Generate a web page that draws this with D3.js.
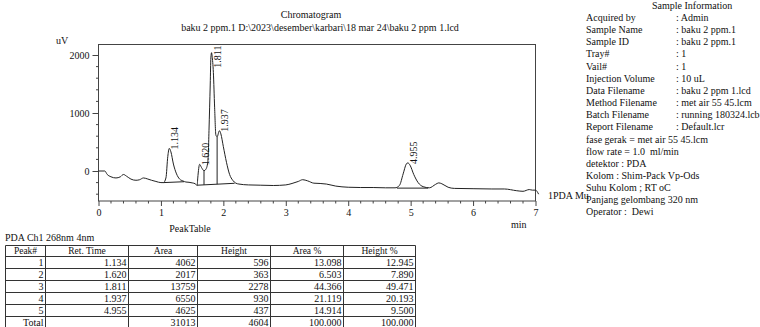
<!DOCTYPE html>
<html>
<head>
<meta charset="utf-8">
<script src="https://cdn.jsdelivr.net/npm/d3@7"></script>
<style>
body { margin: 0; background: white; }
svg text { font-family: "Liberation Serif", "Times New Roman", serif; fill: #111; white-space: pre; }
</style>
</head>
<body>
<div id="chart"></div>
<script>
var W = 760
var H = 327

// Chromatogram trace (min, uV)
var sigTime = [0.00,0.10,0.14,0.20,0.28,0.35,0.40,0.45,0.52,0.60,0.66,0.72,0.78,0.85,0.92,1.00,1.04,
    1.08,1.11,1.134,1.16,1.20,1.25,1.30,1.35,1.40,1.45,1.50,1.55,1.58,1.59,1.62,1.65,1.69,1.72,1.75,
    1.76,1.77,1.79,1.80,1.811,1.82,1.84,1.86,1.88,1.90,1.937,1.96,2.00,2.05,2.10,2.15,2.20,2.25,2.40,
    2.60,2.80,3.00,3.10,3.20,3.27,3.35,3.45,3.55,3.65,3.80,4.00,4.20,4.40,4.60,4.75,4.82,4.88,4.93,
    4.955,4.99,5.05,5.12,5.20,5.30,5.40,5.45,5.50,5.60,5.70,6.00,6.30,6.50,6.70,6.80,6.90,6.95,7.00,7.05]
var sigUv = [0,0,-60,-100,-120,-100,-60,-90,-140,-160,-150,-120,-135,-160,-180,-200,-200,
    -120,250,390,330,120,-50,-140,-170,-190,-195,-205,-220,-250,-120,115,60,5,30,150,
    320,700,1500,1950,2040,1980,1700,1100,620,590,695,640,420,150,-60,-160,-210,-225,-240,
    -245,-250,-240,-215,-180,-150,-170,-210,-215,-225,-260,-280,-285,-285,-290,-290,-250,-50,120,
    140,100,-60,-200,-270,-290,-230,-205,-220,-280,-300,-305,-310,-310,-340,-350,-320,-330,-330,-400]

// integration baselines [t1, uV1, t2, uV2] and drop lines (min)
var baseLines = [[1.04, -200, 1.37, -185], [1.58, -245, 2.18, -212], [4.78, -295, 5.28, -295]]
var dropTimes = [1.69, 1.90]

// peak table
var peakNo = ["1", "2", "3", "4", "5"]
var retTime = ["1.134", "1.620", "1.811", "1.937", "4.955"]
var area = ["4062", "2017", "13759", "6550", "4625"]
var heightV = ["596", "363", "2278", "930", "437"]
var areaPct = ["13.098", "6.503", "44.366", "21.119", "14.914"]
var heightPct = ["12.945", "7.890", "49.471", "20.193", "9.500"]
var totalRow = ["Total", "", "31013", "4604", "100.000", "100.000"]
var headers = ["Peak#", "Ret. Time", "Area", "Height", "Area %", "Height %"]

var xTicks = [0, 1, 2, 3, 4, 5, 6, 7]
var yTicks = [0, 1000, 2000]

var infoLabels = ["Acquired by", "Sample Name", "Sample ID", "Tray#", "Vail#", "Injection Volume",
    "Data Filename", "Method Filename", "Batch Filename", "Report Filename"]
var infoValues = [": Admin", ": baku 2 ppm.1", ": baku 2 ppm.1", ": 1", ": 1", ": 10 uL",
    ": baku 2 ppm 1.lcd", ": met air 55 45.lcm", ": running 180324.lcb", ": Default.lcr"]
var infoNotes = ["fase gerak = met air 55 45.lcm", "flow rate = 1.0  ml/min", "detektor : PDA",
    "Kolom : Shim-Pack Vp-Ods", "Suhu Kolom ; RT oC", "Panjang gelombang 320 nm", "Operator :  Dewi"]

var plot = {left: 98.5, right: 535.5, top: 44.5, bottom: 201}

var x_scale = d3.scaleLinear().domain([0, 7]).range([plot.left, plot.right])
var y_scale = d3.scaleLinear().domain([0, 2000]).range([171, 55])

var svg = d3.select("#chart")
    .append("svg")
    .attr("width", W)
    .attr("height", H)
    .style("font-family", "'Liberation Serif', serif")
    .style("background-color", "white")

// Titles

svg.append("text").attr("x", 311).attr("y", 18).attr("text-anchor", "middle")
    .style("font-size", "10px").text("Chromatogram")
svg.append("text").attr("x", 320).attr("y", 31).attr("text-anchor", "middle")
    .style("font-size", "10px").text("baku 2 ppm.1 D:\\2023\\desember\\karbari\\18 mar 24\\baku 2 ppm 1.lcd")
svg.append("text").attr("x", 56).attr("y", 44).style("font-size", "10px").text("uV")
svg.append("text").attr("x", 511).attr("y", 228).style("font-size", "10px").text("min")

// Frame and axes

svg.append("rect")
    .attr("x", plot.left).attr("y", plot.top)
    .attr("width", plot.right - plot.left).attr("height", plot.bottom - plot.top)
    .attr("fill", "none").attr("stroke", "#444").attr("stroke-width", 1)

var xAxis = d3.axisBottom(x_scale).tickValues(xTicks).tickFormat(d3.format("d")).tickSize(5).tickSizeOuter(0)
var yAxis = d3.axisLeft(y_scale).tickValues(yTicks).tickFormat(d3.format("d")).tickSize(6).tickSizeOuter(0)

var gx = svg.append("g").attr("transform", "translate(0," + plot.bottom + ")").call(xAxis)
var gy = svg.append("g").attr("transform", "translate(" + plot.left + ",0)").call(yAxis)
gx.select(".domain").remove()
gy.select(".domain").remove()
gx.attr("font-family", null)
gy.attr("font-family", null)
svg.selectAll(".tick line").attr("stroke", "#444")
svg.selectAll(".tick text").style("font-size", "10px").attr("fill", "#111")

// minor ticks
var xMinor = d3.range(0, 7.01, 0.2).filter(function(d) { return Math.abs(d - Math.round(d)) > 0.01 })
svg.append("g").selectAll("line").data(xMinor).enter().append("line")
    .attr("x1", function(d) { return x_scale(d) }).attr("x2", function(d) { return x_scale(d) })
    .attr("y1", plot.bottom).attr("y2", plot.bottom + 2.5).attr("stroke", "#444")
var yMinor = [-400, -200, 200, 400, 600, 800, 1200, 1400, 1600, 1800]
svg.append("g").selectAll("line").data(yMinor).enter().append("line")
    .attr("y1", function(d) { return y_scale(d) }).attr("y2", function(d) { return y_scale(d) })
    .attr("x1", plot.left - 2.5).attr("x2", plot.left).attr("stroke", "#444")

// Trace

var sig = sigTime.map(function(t, i) { return [t, sigUv[i]] })
var line = d3.line()
    .x(function(d) { return x_scale(d[0]) })
    .y(function(d) { return y_scale(d[1]) })
    .curve(d3.curveMonotoneX)

svg.append("path").datum(sig)
    .attr("d", line)
    .attr("fill", "none").attr("stroke", "#222").attr("stroke-width", 1)

function sigAt(t) {
    var i = d3.bisectLeft(sigTime, t)
    if (i <= 0) return sigUv[0]
    var t0 = sigTime[i - 1], t1 = sigTime[i]
    return sigUv[i - 1] + (sigUv[i] - sigUv[i - 1]) * (t - t0) / (t1 - t0)
}
function baseAt(t) {
    var b = baseLines.filter(function(s) { return t >= s[0] && t <= s[2] })[0]
    return b[1] + (b[3] - b[1]) * (t - b[0]) / (b[2] - b[0])
}

svg.append("g").selectAll("line").data(baseLines).enter().append("line")
    .attr("x1", function(d) { return x_scale(d[0]) }).attr("y1", function(d) { return y_scale(d[1]) })
    .attr("x2", function(d) { return x_scale(d[2]) }).attr("y2", function(d) { return y_scale(d[3]) })
    .attr("stroke", "#222").attr("stroke-width", 1)

svg.append("g").selectAll("line").data(dropTimes).enter().append("line")
    .attr("x1", function(d) { return x_scale(d) }).attr("x2", function(d) { return x_scale(d) })
    .attr("y1", function(d) { return y_scale(baseAt(d)) })
    .attr("y2", function(d) { return y_scale(sigAt(d)) })
    .attr("stroke", "#222").attr("stroke-width", 1)

// Peak labels (rotated retention times)
var labels = svg.append("g").selectAll("text").data(retTime).enter().append("text")
    .style("font-size", "10px")
    .text(function(d) { return d })
labels.each(function(d) {
    var t = +d
    var apex = d3.max(sigTime.map(function(s, i) { return Math.abs(s - t) < 0.03 ? sigUv[i] : -1e9 }))
    var len = this.getComputedTextLength()
    var px = x_scale(t) + 9
    var py = y_scale(apex) + 1
    if (py - len < plot.top + 1) py = plot.top + 1 + len
    d3.select(this).attr("transform", "translate(" + px + "," + py + ") rotate(-90)")
})

svg.append("text").attr("x", 548).attr("y", 199).style("font-size", "10px").text("1PDA Mu")

// Sample information

svg.append("text").attr("x", 652).attr("y", 9).style("font-size", "10px").text("Sample Information")
svg.append("g").selectAll("text").data(infoLabels).enter().append("text")
    .attr("x", 586).attr("y", function(d, i) { return 21 + i * 12.15 })
    .style("font-size", "10px").text(function(d) { return d })
svg.append("g").selectAll("text").data(infoValues).enter().append("text")
    .attr("x", 676).attr("y", function(d, i) { return 21 + i * 12.15 })
    .style("font-size", "10px").text(function(d) { return d })
svg.append("g").selectAll("text").data(infoNotes).enter().append("text")
    .attr("x", 586).attr("y", function(d, i) { return 21 + (i + 10) * 12.15 })
    .style("font-size", "10px").text(function(d) { return d })

// Peak table

svg.append("text").attr("x", 190).attr("y", 232).attr("text-anchor", "middle")
    .style("font-size", "10px").text("PeakTable")
svg.append("text").attr("x", 5).attr("y", 241).style("font-size", "10px").text("PDA Ch1 268nm 4nm")

var colX = [5.5, 45.5, 128.5, 197.5, 270.5, 343.5, 415.5]
var rowY = [245.5, 256.5, 268.5, 280.5, 292.5, 304.5, 316.5, 328.5]
var rows = peakNo.map(function(p, i) {
    return [p, retTime[i], area[i], heightV[i], areaPct[i], heightPct[i]]
})
rows.push(totalRow)

var tbl = svg.append("g")
tbl.selectAll(".hl").data(rowY).enter().append("line")
    .attr("x1", colX[0]).attr("x2", colX[colX.length - 1])
    .attr("y1", function(d) { return d }).attr("y2", function(d) { return d })
    .attr("stroke", "#333")
tbl.selectAll(".vl").data(colX).enter().append("line")
    .attr("x1", function(d) { return d }).attr("x2", function(d) { return d })
    .attr("y1", rowY[0]).attr("y2", rowY[rowY.length - 1])
    .attr("stroke", "#333")

tbl.selectAll(".hd").data(headers).enter().append("text")
    .attr("x", function(d, i) { return (colX[i] + colX[i + 1]) / 2 })
    .attr("y", rowY[0] + 8.5)
    .attr("text-anchor", "middle")
    .style("font-size", "9.5px").text(function(d) { return d })

rows.forEach(function(r, ri) {
    tbl.append("g").selectAll("text").data(r).enter().append("text")
        .attr("x", function(d, i) { return colX[i + 1] - 2 })
        .attr("y", rowY[ri + 1] + 9.5)
        .attr("text-anchor", "end")
        .style("font-size", "10px").text(function(d) { return d })
})
</script>
</body>
</html>
